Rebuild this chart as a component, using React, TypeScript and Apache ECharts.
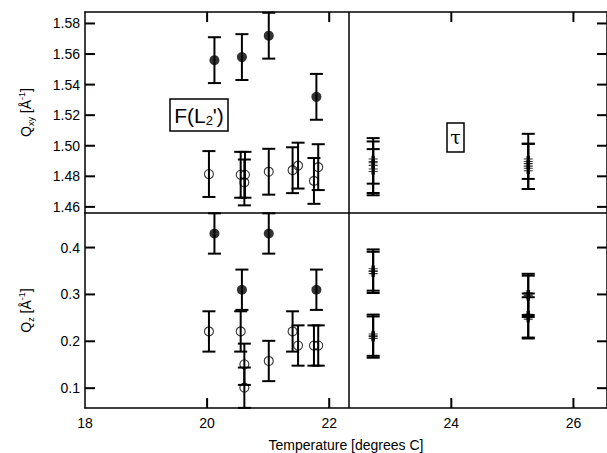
import React, { useEffect, useRef } from "react";
import * as echarts from "echarts";

// ---- data ----
const tempMin = 18;
const tempMax = 26.55;
const phaseBoundary = 22.32;
const qxyMin = 1.456;
const qxyMax = 1.5875;
const qzMin = 0.0577;
const qzMax = 0.4737;

// tick labels
const xTicks = [18, 20, 22, 24, 26];
const qxyTicks = [1.46, 1.48, 1.5, 1.52, 1.54, 1.56, 1.58];
const qzTicks = [0.1, 0.2, 0.3, 0.4];

// F(L2') phase, filled symbols
const filledX = [20.12, 20.57, 21.01, 21.79];
const filledQxy = [1.556, 1.558, 1.572, 1.532];
const filledQxyErr = [0.015, 0.015, 0.015, 0.015];
const filledQz = [0.43, 0.31, 0.43, 0.31];
const filledQzErr = [0.043, 0.043, 0.043, 0.043];

// F(L2') phase, open symbols
const openX = [20.03, 20.55, 20.62, 20.61, 21.01, 21.4, 21.49, 21.75, 21.82];
const openQxy = [1.4815, 1.481, 1.481, 1.476, 1.483, 1.484, 1.487, 1.477, 1.486];
const openQxyErr = [0.015, 0.015, 0.015, 0.015, 0.015, 0.015, 0.015, 0.015, 0.015];
const openQzX = [20.03, 20.55, 20.61, 20.61, 21.01, 21.4, 21.49, 21.75, 21.82];
const openQz = [0.221, 0.221, 0.151, 0.101, 0.158, 0.221, 0.191, 0.191, 0.191];
const openQzErr = [0.043, 0.043, 0.044, 0.043, 0.043, 0.043, 0.043, 0.043, 0.043];

// tau phase (hash symbols)
const tauQxyX = [22.72, 22.72, 22.72, 25.26, 25.26, 25.26];
const tauQxy = [1.4905, 1.488, 1.484, 1.4905, 1.4875, 1.4845];
const tauQxyLo = [1.4752, 1.4691, 1.4676, 1.4717, 1.4783, 1.4717];
const tauQxyHi = [1.505, 1.5028, 1.4978, 1.5078, 1.5013, 1.5013];
const tauQzX = [22.72, 22.72, 22.72, 22.72, 25.26, 25.26, 25.26, 25.26];
const tauQz = [0.352, 0.347, 0.213, 0.209, 0.3, 0.296, 0.255, 0.25];
const tauQzErr = [0.044, 0.044, 0.044, 0.044, 0.044, 0.044, 0.047, 0.044];

const FONT = "'Liberation Sans', Arial, Helvetica, sans-serif";
const HASH =
  "path://M3,0L4.2,0L4.2,10L3,10Z M5.8,0L7,0L7,10L5.8,10Z M0,3L10,3L10,4.2L0,4.2Z M0,5.8L10,5.8L10,7L0,7Z";
const TICK_LEN = 10;
const TICK_W = 2;

function sym(x: number[], y: number[]) {
  return x.map((v, i) => [v, y[i]]);
}
function errSym(x: number[], y: number[], e: number[]) {
  return x.map((v, i) => [v, y[i] - e[i], y[i] + e[i]]);
}
function errLoHi(x: number[], lo: number[], hi: number[]) {
  return x.map((v, i) => [v, lo[i], hi[i]]);
}

function renderErr(params: any, api: any) {
  const x = api.value(0);
  const lo = api.value(1);
  const hi = api.value(2);
  const cs = params.coordSys;
  const pLo = api.coord([x, lo]);
  const pHi = api.coord([x, hi]);
  const px = pLo[0];
  const top = Math.max(pHi[1], cs.y);
  const bot = Math.min(pLo[1], cs.y + cs.height);
  const st = { stroke: "#000", lineWidth: 2 };
  const children: any[] = [
    { type: "line", shape: { x1: px, y1: top, x2: px, y2: bot }, style: st },
  ];
  const hw = 6.5;
  if (pHi[1] >= cs.y)
    children.push({ type: "line", shape: { x1: px - hw, y1: pHi[1], x2: px + hw, y2: pHi[1] }, style: st });
  if (pLo[1] <= cs.y + cs.height)
    children.push({ type: "line", shape: { x1: px - hw, y1: pLo[1], x2: px + hw, y2: pLo[1] }, style: st });
  return { type: "group", children };
}

// inward tick marks drawn as thin filled rectangles.
// data item: [x, y, kind] kind 0 = x tick at top edge, 1 = x tick at bottom edge, 2 = y tick at both side edges
function renderTick(params: any, api: any) {
  const p = api.coord([api.value(0), api.value(1)]);
  const kind = Math.round(api.value(2));
  const cs = params.coordSys;
  const st = { fill: "#000", stroke: "none" };
  if (kind === 0)
    return { type: "rect", shape: { x: p[0] - TICK_W / 2, y: cs.y, width: TICK_W, height: TICK_LEN }, style: st };
  if (kind === 1)
    return { type: "rect", shape: { x: p[0] - TICK_W / 2, y: cs.y + cs.height - TICK_LEN, width: TICK_W, height: TICK_LEN }, style: st };
  const r = cs.x + cs.width;
  return {
    type: "group",
    children: [
      { type: "rect", shape: { x: cs.x, y: p[1] - TICK_W / 2, width: TICK_LEN, height: TICK_W }, style: st },
      { type: "rect", shape: { x: r - TICK_LEN, y: p[1] - TICK_W / 2, width: TICK_LEN, height: TICK_W }, style: st },
    ],
  };
}

function tickData(xKind: number, yMidVal: number, yTicks: number[]) {
  const xs = xTicks.filter((v) => v > tempMin).map((v) => [v, yMidVal, xKind]);
  const ys = yTicks.map((v) => [20, v, 2]);
  return xs.concat(ys);
}

function customSeries(data: number[][], xi: number, yi: number, render: any, z: number) {
  return {
    type: "custom",
    xAxisIndex: xi,
    yAxisIndex: yi,
    renderItem: render,
    encode: { x: 0, y: 1 },
    data,
    clip: false,
    z,
  };
}

const lineOn = () => ({ show: true, onZero: false, lineStyle: { color: "#000", width: 1.5 } });

function xAxisCfg(grid: number, pos: string, labels: boolean) {
  return {
    type: "value",
    gridIndex: grid,
    min: tempMin,
    max: tempMax,
    interval: 2,
    position: pos,
    axisLine: lineOn(),
    axisTick: { show: false },
    splitLine: { show: false },
    axisLabel: {
      show: labels,
      color: "#000",
      fontSize: 14,
      fontFamily: FONT,
      margin: 8,
      showMaxLabel: false,
      formatter: (v: number) => (xTicks.indexOf(v) >= 0 ? String(v) : ""),
    },
    name: labels ? "Temperature [degrees C]" : "",
    nameLocation: "middle",
    nameGap: 30,
    nameTextStyle: { color: "#000", fontSize: 14, fontFamily: FONT },
  };
}

function yAxisCfg(grid: number, right: boolean, min: number, max: number, step: number, dec: number, name: string) {
  return {
    type: "value",
    gridIndex: grid,
    min,
    max,
    minInterval: step,
    maxInterval: step,
    position: right ? "right" : "left",
    axisLine: lineOn(),
    axisTick: { show: false },
    splitLine: { show: false },
    axisLabel: {
      show: !right,
      color: "#000",
      fontSize: 14,
      fontFamily: FONT,
      margin: 5,
      showMinLabel: false,
      showMaxLabel: false,
      formatter: (v: number) => v.toFixed(dec),
    },
    name: right ? "" : name,
    nameLocation: "middle",
    nameGap: 50,
    nameTextStyle: {
      color: "#000",
      fontSize: 14,
      fontFamily: FONT,
      lineHeight: 18,
      rich: {
        n: { fontSize: 14, fontFamily: FONT, color: "#000", lineHeight: 18 },
        sub: { fontSize: 9, fontFamily: FONT, color: "#000", verticalAlign: "bottom", lineHeight: 8 },
        sup: { fontSize: 9, fontFamily: FONT, color: "#000", verticalAlign: "top", lineHeight: 9 },
      },
    },
  };
}

const annotations: any[] = [
  { type: "rect", shape: { x: 170, y: 99, width: 58, height: 32 }, style: { fill: "#fff", stroke: "#000", lineWidth: 1.5 }, z: 10 },
  {
    type: "text", x: 199, y: 115, z: 11,
    style: {
      text: "{a|F(L}{s|2}{a|')}",
      align: "center", verticalAlign: "middle",
      rich: {
        a: { fontSize: 21, fontFamily: FONT, fill: "#000", color: "#000", lineHeight: 24 },
        s: { fontSize: 13, fontFamily: FONT, fill: "#000", color: "#000", lineHeight: 12, verticalAlign: "bottom" },
      },
    },
  },
  { type: "rect", shape: { x: 447, y: 123, width: 17, height: 29 }, style: { fill: "#fff", stroke: "#000", lineWidth: 1.5 }, z: 10 },
  {
    type: "text", x: 455.5, y: 137, z: 11,
    style: { text: "τ", fontSize: 19, fontFamily: "'DejaVu Serif', 'Liberation Serif', serif", fill: "#000", align: "center", verticalAlign: "middle" },
  },
];

export default function App() {
  const ref = useRef<HTMLDivElement>(null);
  useEffect(() => {
    if (!ref.current) return;
    const chart = echarts.init(ref.current, undefined, { renderer: "svg" });
    const vline = {
      silent: true,
      symbol: ["none", "none"],
      label: { show: false },
      lineStyle: { color: "#000", width: 1.5, type: "solid" },
      data: [{ xAxis: phaseBoundary }],
    };
    const option: any = {
      animation: false,
      backgroundColor: "#fff",
      grid: [
        { left: 85, top: 12, width: 528, height: 201, show: false },
        { left: 85, top: 213, width: 528, height: 195, show: false },
      ],
      xAxis: [
        xAxisCfg(0, "top", false),
        xAxisCfg(1, "bottom", true),
        xAxisCfg(0, "bottom", false),
      ],
      yAxis: [
        yAxisCfg(0, false, qxyMin, qxyMax, 0.02, 2, "{n|Q}{sub|xy}{n| [Å}{sup|-1}{n|]}"),
        yAxisCfg(0, true, qxyMin, qxyMax, 0.02, 2, ""),
        yAxisCfg(1, false, qzMin, qzMax, 0.1, 1, "{n|Q}{sub|z}{n| [Å}{sup|-1}{n|]}"),
        yAxisCfg(1, true, qzMin, qzMax, 0.1, 1, ""),
      ],
      series: [
        customSeries(tickData(0, 1.52, qxyTicks), 0, 0, renderTick, 1),
        customSeries(tickData(1, 0.25, qzTicks), 1, 2, renderTick, 1),
        customSeries(errSym(filledX, filledQxy, filledQxyErr), 0, 0, renderErr, 2),
        customSeries(errSym(openX, openQxy, openQxyErr), 0, 0, renderErr, 2),
        customSeries(errLoHi(tauQxyX, tauQxyLo, tauQxyHi), 0, 0, renderErr, 2),
        customSeries(errSym(filledX, filledQz, filledQzErr), 1, 2, renderErr, 2),
        customSeries(errSym(openQzX, openQz, openQzErr), 1, 2, renderErr, 2),
        customSeries(errSym(tauQzX, tauQz, tauQzErr), 1, 2, renderErr, 2),
        {
          type: "scatter", xAxisIndex: 0, yAxisIndex: 0, data: sym(filledX, filledQxy),
          symbol: "circle", symbolSize: 10, itemStyle: { color: "#000" }, z: 3, silent: true,
          markLine: vline,
        },
        {
          type: "scatter", xAxisIndex: 0, yAxisIndex: 0, data: sym(openX, openQxy),
          symbol: "circle", symbolSize: 9, itemStyle: { color: "rgba(0,0,0,0)", borderColor: "#000", borderWidth: 1.1 }, z: 3, silent: true,
        },
        {
          type: "scatter", xAxisIndex: 0, yAxisIndex: 0, data: sym(tauQxyX, tauQxy),
          symbol: HASH, symbolSize: 9, itemStyle: { color: "#000" }, z: 3, silent: true,
        },
        {
          type: "scatter", xAxisIndex: 1, yAxisIndex: 2, data: sym(filledX, filledQz),
          symbol: "circle", symbolSize: 10, itemStyle: { color: "#000" }, z: 3, silent: true,
          markLine: vline,
        },
        {
          type: "scatter", xAxisIndex: 1, yAxisIndex: 2, data: sym(openQzX, openQz),
          symbol: "circle", symbolSize: 9, itemStyle: { color: "rgba(0,0,0,0)", borderColor: "#000", borderWidth: 1.1 }, z: 3, silent: true,
        },
        {
          type: "scatter", xAxisIndex: 1, yAxisIndex: 2, data: sym(tauQzX, tauQz),
          symbol: HASH, symbolSize: 9, itemStyle: { color: "#000" }, z: 3, silent: true,
        },
      ],
      graphic: annotations,
    };
    chart.setOption(option);
    return () => chart.dispose();
  }, []);
  return (
    <div
      ref={ref}
      style={{ position: "absolute", left: 0, top: 0, width: 607, height: 453, background: "#fff" }}
    />
  );
}
